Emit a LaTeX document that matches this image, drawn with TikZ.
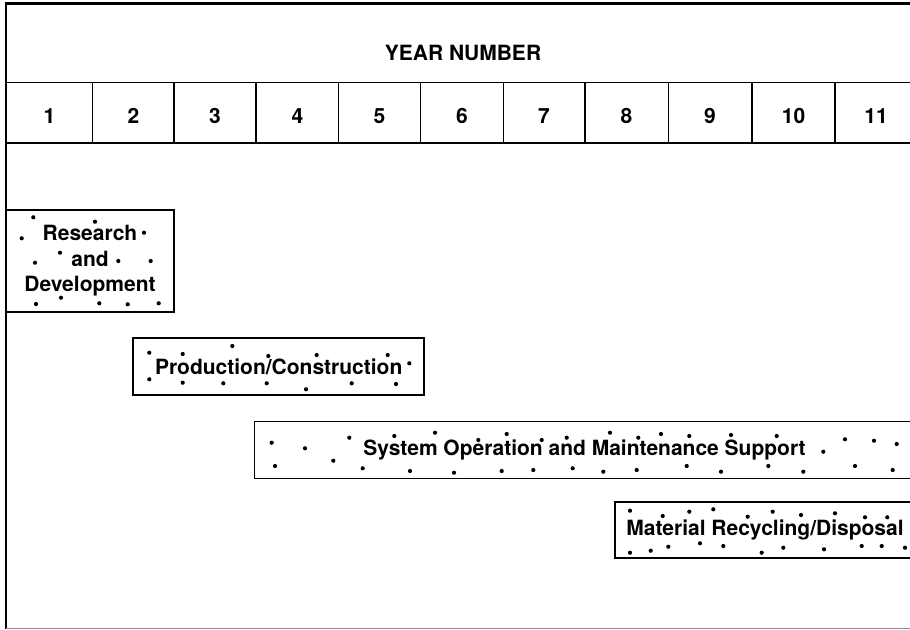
\documentclass[tikz,border=0pt]{standalone}
\usepackage{fontspec}
\setmainfont{TeX Gyre Heros}
\begin{document}
\begin{tikzpicture}[
  x=1pt, y=-1pt,
  font=\fontsize{21}{25.5}\selectfont\bfseries,
  rule/.style={line width=1.4pt},
  frame/.style={line width=2.4pt},
  phase/.style={draw, line width=1.6pt, inner sep=0pt, align=center},
  speck/.style={fill=black}
]
\useasboundingbox (0,0) rectangle (910,629);
\draw[frame] (5,3.5) -- (910,3.5);
\draw[frame] (6,3.5) -- (6,629);
\draw[rule] (6,82.5) -- (910,82.5);
\draw[rule] (6,143) -- (910,143);
\draw[line width=1pt, black!45] (6,628.2) -- (910,628.2);
\node (yr) at (463,53) {YEAR NUMBER};
\foreach \x in {92.7,174,256,338.7,420.7,503.3,585,668.3,752,835}
  \draw[rule] (\x,82.5) -- (\x,143);
\foreach \x/\n in {49.5/1,133.5/2,215/3,297.5/4,379.5/5,462/6,544/7,626.5/8,710/9,793.5/10,876/11}
  \node (yr\n) at (\x,116) {\n};
\node[phase, minimum width=168pt, minimum height=102pt] (rd) at (90,261) {Research\\and\\Development};
\node[phase, minimum width=291pt, minimum height=57pt] (pc) at (278.7,366.7) {Production/Construction};
\node[phase, minimum width=660pt, minimum height=57pt] (om) at (584.5,450) {System Operation and Maintenance Support};
\node[phase, minimum width=300pt, minimum height=56pt] (mr) at (765,530) {Material Recycling/Disposal};
\foreach \p in {(33.3,217.3),(95,221.7),(21.7,238.3),(144,232.7),(60,252.7),(35,262.7),(118.3,261),(150.7,261),(36,304),(61,297.7),(99.3,303.3),(127.7,304.3),(158.7,303.3),
  (149.3,352.7),(182.7,354),(232.3,346),(268.3,356),(316.7,355),(387.7,355),(409.3,363.3),(149.3,379.3),(182.7,382.7),(223.3,383.3),(266.7,383.3),(306,389.3),(351.7,383.3),(396,384),
  (271.7,442.7),(305,448.3),(349.3,437.7),(394.3,436),(435,432.7),(478.3,440),(506.7,434),(541.7,440),(566.7,437.7),(275,466),(333.3,460.7),(362.7,468.3),(410,471),(454,472.7),(501.7,471),(533.3,470),(572.7,468.3),
  (610,432.7),(638.3,437.7),(661,434),(689.3,436),(731,435),(776.7,436),(823.3,451.7),(845,439.3),(874,440.7),(896.7,444),(603.3,471.7),(636.7,470),(686.7,466),(721,471.7),(768.3,466),(803.3,471.7),(855,466),(892.7,470),
  (630,510.7),(662.7,516),(689.3,511.7),(713.3,509.3),(747.7,516.7),(772.7,511.7),(801,515),(835,513.3),(865,517.3),(887.3,517.3),(630,552.7),(650.7,550.7),(668.3,546.7),(700,543.3),(723.3,546),(761.7,552.7),(783.3,547.7),(824,549.3),(861.7,546),(881.7,546),(905,547.7)}
  \fill[speck] \p circle (2.1pt);
\end{tikzpicture}
\end{document}
